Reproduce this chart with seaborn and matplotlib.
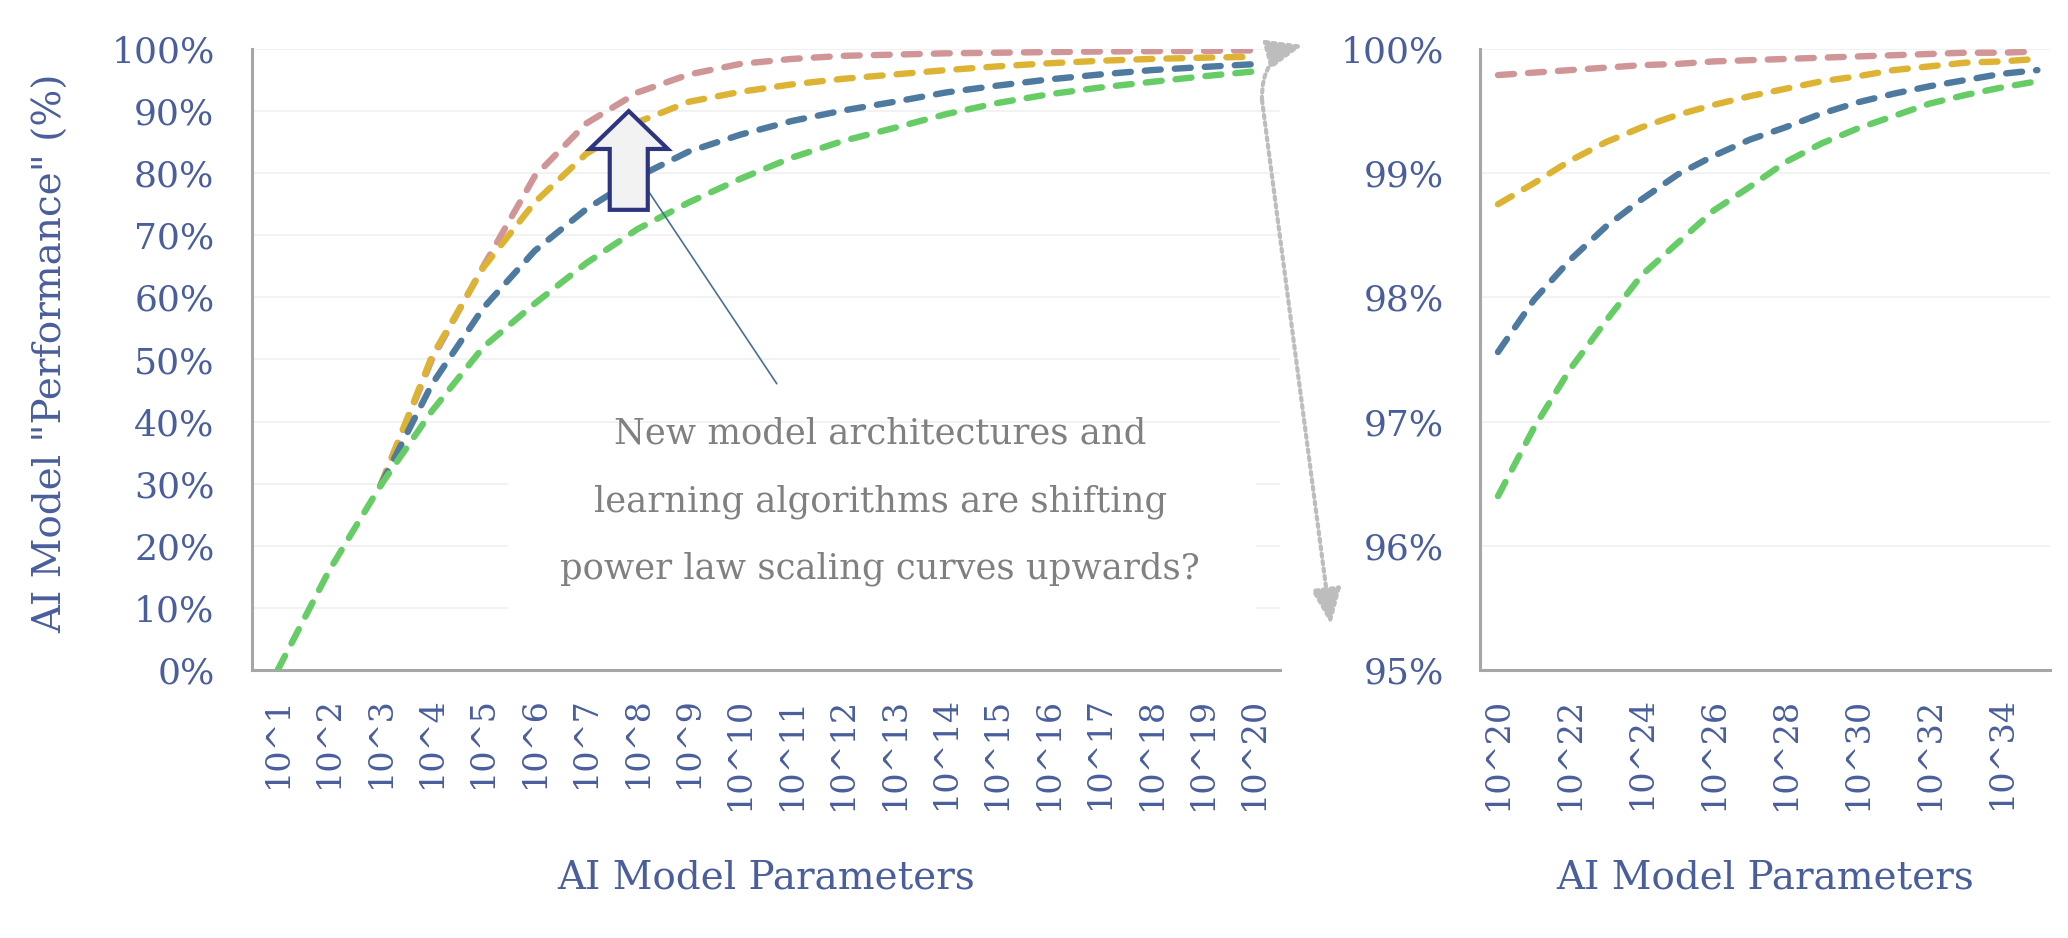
import numpy as np
import pandas as pd
import matplotlib
matplotlib.use("Agg")
import matplotlib.pyplot as plt
import seaborn as sns
from matplotlib.patches import FancyArrow, Rectangle

# Exponents of the parameter count (10^k)
left_exp = list(range(1, 21))
right_exp = list(range(20, 36))

# AI model "performance" (%)
nan = np.nan
pink_left = [nan, nan, 29.7, 50.0, 65.0, 79.5, 88.0, 93.0, 95.9, 97.6,
             98.4, 98.9, 99.1, 99.3, 99.4, 99.5, 99.6, 99.65, 99.7, 99.78]
gold_left = [nan, nan, 29.7, 50.5, 64.8, 75.3, 83.1, 88.2, 91.5, 93.1,
             94.3, 95.2, 95.9, 96.6, 97.2, 97.7, 98.1, 98.4, 98.6, 98.75]
blue_left = [nan, nan, 29.7, 46.0, 58.3, 67.5, 74.2, 79.4, 83.5, 86.2,
             88.4, 90.1, 91.5, 93.0, 94.1, 95.1, 95.9, 96.6, 97.1, 97.56]
green_left = [0.0, 16.0, 29.7, 41.7, 52.0, 59.0, 65.5, 71.0, 75.3, 79.1,
              82.5, 85.2, 87.3, 89.5, 91.3, 92.7, 93.8, 94.7, 95.6, 96.4]

pink_right = [99.79, 99.81, 99.83, 99.85, 99.87, 99.88, 99.90, 99.91,
              99.92, 99.93, 99.94, 99.95, 99.96, 99.97, 99.97, 99.98]
gold_right = [98.75, 98.92, 99.10, 99.25, 99.37, 99.47, 99.55, 99.62,
              99.68, 99.74, 99.78, 99.83, 99.86, 99.89, 99.90, 99.92]
blue_right = [97.56, 97.98, 98.30, 98.57, 98.79, 98.99, 99.14, 99.27,
              99.37, 99.48, 99.57, 99.64, 99.70, 99.75, 99.80, 99.83]
green_right = [96.40, 96.95, 97.42, 97.81, 98.18, 98.44, 98.70, 98.89,
               99.09, 99.24, 99.36, 99.46, 99.56, 99.63, 99.69, 99.74]

series_names = ["pink", "gold", "blue", "green"]
palette = {"pink": "#D09597", "gold": "#DDB334", "blue": "#4F7AA0", "green": "#66CC66"}

left_yticks = list(range(0, 101, 10))
right_yticks = list(range(95, 101))
right_xticks = list(range(20, 35, 2))

annotation_lines = ["New model architectures and",
                    "learning algorithms are shifting",
                    "power law scaling curves upwards?"]

TEXT_BLUE = "#4A5E9C"
SPINE = "#A6A6A6"
GRID = "#EFEFEF"


def long_frame(exps, values):
    rows = []
    for name, vals in zip(series_names, values):
        for e, v in zip(exps, vals):
            rows.append({"exp": e, "perf": v, "series": name})
    return pd.DataFrame(rows)


left_df = long_frame(left_exp, [pink_left, gold_left, blue_left, green_left])
right_df = long_frame(right_exp, [pink_right, gold_right, blue_right, green_right])

sns.set_style("white")
plt.rcParams["font.family"] = ["DejaVu Serif"]

fig = plt.figure(figsize=(20.68, 9.38), dpi=100)
ax1 = fig.add_axes([252 / 2068, 1 - 670 / 938, 1028 / 2068, 621 / 938])
ax2 = fig.add_axes([1480 / 2068, 1 - 670 / 938, 570 / 2068, 621 / 938])


def draw_lines(ax, df):
    for name in series_names:
        sub = df[df["series"] == name].dropna()
        sns.lineplot(data=sub, x="exp", y="perf", ax=ax, color=palette[name],
                     linewidth=4.6, legend=False, zorder=3)
    for line in ax.lines:
        line.set_dashes((2.5, 2.2))
        line.set_dash_capstyle("round")


def style_axes(ax, yticks, xticks, pad_y):
    ax.set_yticks(yticks)
    ax.set_yticklabels([f"{t}%" for t in yticks])
    ax.set_xticks(xticks)
    ax.set_xticklabels([f"10^{t}" for t in xticks], rotation=90)
    ax.tick_params(axis="y", length=0, pad=pad_y, labelsize=26, labelcolor=TEXT_BLUE)
    ax.tick_params(axis="x", length=0, pad=19, labelsize=24, labelcolor=TEXT_BLUE)
    ax.grid(axis="y", color=GRID, linewidth=1.1, zorder=0)
    ax.grid(axis="x", visible=False)
    for side in ["top", "right"]:
        ax.spines[side].set_visible(False)
    for side in ["left", "bottom"]:
        ax.spines[side].set_color(SPINE)
        ax.spines[side].set_linewidth(2.2)
    ax.set_xlabel("AI Model Parameters", fontsize=28, color=TEXT_BLUE, va="center")
    ax.xaxis.set_label_coords(0.5, -0.335)


draw_lines(ax1, left_df)
draw_lines(ax2, right_df)

ax1.set_xlim(0.5, 20.5)
ax1.set_ylim(0, 100)
ax2.set_xlim(19.5, 35.35)
ax2.set_ylim(95, 100)

style_axes(ax1, left_yticks, left_exp, 27)
style_axes(ax2, right_yticks, right_xticks, 26)

ax1.set_ylabel('AI Model "Performance" (%)', fontsize=28, color=TEXT_BLUE, va="center")
ax1.yaxis.set_label_coords(-0.195, 0.51)
ax2.set_ylabel("")

# white box behind the annotation text (hides the gridlines there)
ax1.add_patch(Rectangle((5.48, 4.8), 14.55, 33.0, facecolor="white",
                        edgecolor="none", zorder=1))
for txt, base in zip(annotation_lines, [36.5, 25.6, 14.8]):
    ax1.text(12.72, base, txt, ha="center", va="baseline", fontsize=25.5,
             color="#808080", zorder=4)

# thin pointer line from the text to the arrow
ax1.annotate("", xy=(8.18, 77.5), xytext=(10.71, 46.1),
             arrowprops=dict(arrowstyle="-", color="#44709C", lw=1.2,
                             shrinkA=0, shrinkB=0), zorder=4)

# block arrow pointing upwards
ax1.add_patch(FancyArrow(7.83, 74.1, 0, 15.9, width=0.74, head_width=1.52,
                         head_length=6.1, length_includes_head=True,
                         facecolor="#F2F2F2", edgecolor="#2E3580",
                         linewidth=3, zorder=6))

# dotted zoom connector between the panels
corner = (1262 / 2068, 1 - 100 / 938)
top_tip = (1303 / 2068, 1 - 45 / 938)
bottom_tip = (1331 / 2068, 1 - 625 / 938)
for tip, rad in [(top_tip, -0.4), (bottom_tip, 0.0)]:
    ax1.annotate("", xy=tip, xycoords="figure fraction", xytext=corner,
                 textcoords="figure fraction", annotation_clip=False,
                 arrowprops=dict(arrowstyle="-|>,head_length=2.2,head_width=0.9",
                                 color="#BDBDBD", lw=3.0, linestyle=(0, (0.8, 1.0)),
                                 shrinkA=0, shrinkB=0,
                                 connectionstyle=f"arc3,rad={rad}"))

fig.savefig("out.png", dpi=100)
